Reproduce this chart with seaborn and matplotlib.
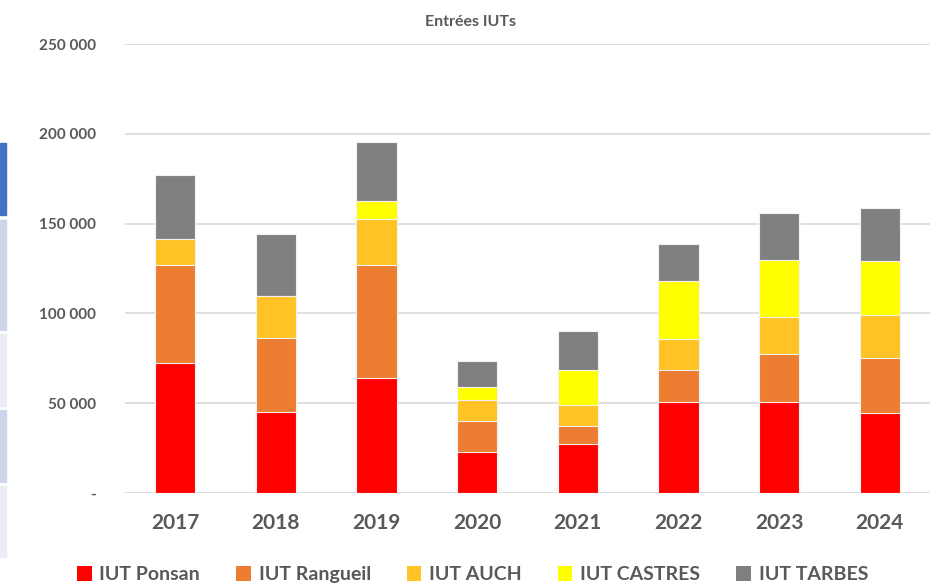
import pandas as pd
import numpy as np
import matplotlib
matplotlib.use("Agg")
import matplotlib.pyplot as plt
import seaborn as sns
from matplotlib.patches import Patch, Rectangle
from matplotlib.ticker import FuncFormatter

# Data
years = ['2017', '2018', '2019', '2020', '2021', '2022', '2023', '2024']
series_names = ['IUT Ponsan', 'IUT Rangueil', 'IUT AUCH', 'IUT CASTRES', 'IUT TARBES']
ponsan = [72300, 45300, 64000, 23000, 27100, 50500, 50900, 44400]
rangueil = [54400, 41000, 63100, 16900, 10400, 18300, 26800, 31000]
auch = [15000, 23200, 25600, 12100, 11700, 17000, 20600, 23500]
castres = [0, 0, 10100, 6800, 19600, 32400, 31600, 30300]
tarbes = [35600, 34900, 32800, 14700, 21400, 20400, 26000, 29300]
colors = ['#FF0000', '#ED7D31', '#FFC325', '#FFFF00', '#808080']

df = pd.DataFrame({'year': years, 'IUT Ponsan': ponsan, 'IUT Rangueil': rangueil,
                   'IUT AUCH': auch, 'IUT CASTRES': castres, 'IUT TARBES': tarbes})
cum = df[series_names].cumsum(axis=1)

sns.set_theme(style='white')
plt.rcParams['font.family'] = ['Lato', 'DejaVu Sans']
text_color = '#595959'

fig = plt.figure(figsize=(9.51, 5.87), dpi=100)
ax = fig.add_axes([0.1314, 0.160, 0.8466, 0.765])

# stacked bars: draw cumulative totals from the top series down
for name, col in reversed(list(zip(series_names, colors))):
    sns.barplot(x=df['year'], y=cum[name], color=col, width=0.4, ax=ax,
                edgecolor='#F2F2F2', linewidth=0.8, saturation=1, zorder=3)

ax.set_ylim(0, 250000)
ax.set_xlim(-0.5, 7.5)
ax.set_yticks(np.arange(0, 250001, 50000))
ax.yaxis.set_major_formatter(FuncFormatter(
    lambda v, p: '-' if v == 0 else f'{int(v):,}'.replace(',', ' ')))
ax.grid(axis='y', color='#D9D9D9', linewidth=1.2, zorder=0)
ax.grid(axis='x', visible=False)
for s in ax.spines.values():
    s.set_visible(False)
ax.set_xlabel('')
ax.set_ylabel('')
ax.tick_params(axis='y', length=0, pad=21, labelsize=11, labelcolor=text_color)
ax.tick_params(axis='x', length=0, pad=14, labelsize=15, labelcolor=text_color)
for lbl in ax.get_xticklabels():
    lbl.set_fontweight('bold')
for lbl in ax.get_yticklabels():
    lbl.set_fontweight('bold')

fig.text(0.495, 0.9625, 'Entrées IUTs', ha='center', va='center',
         fontsize=11.5, fontweight='bold', color=text_color)

handles = [Patch(facecolor=c, edgecolor='none', label=n) for n, c in zip(series_names, colors)]
leg = fig.legend(handles=handles, loc='center', bbox_to_anchor=(0.497, 0.021), ncol=5,
                 frameon=False, handlelength=0.75, handleheight=0.75, handletextpad=0.4,
                 columnspacing=1.85, prop={'size': 14, 'weight': 'bold'})
for t in leg.get_texts():
    t.set_color(text_color)

# thin strip on the left edge of the screenshot
H = 587.0
for y0, y1, c in [(143, 215, '#4472C4'), (220, 330, '#CFD5EA'), (334, 406, '#E9EBF5'),
                  (410, 482, '#CFD5EA'), (486, 557, '#E9EBF5')]:
    fig.patches.append(Rectangle((0, 1 - y1 / H), 6 / 951, (y1 - y0) / H,
                                 transform=fig.transFigure, color=c, zorder=0))

fig.savefig('out.png', dpi=100)
